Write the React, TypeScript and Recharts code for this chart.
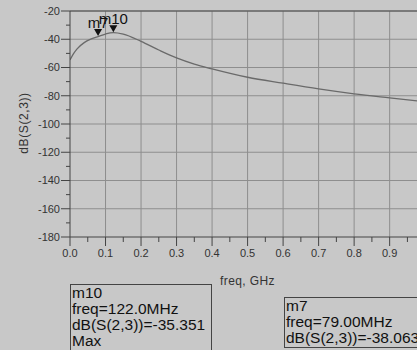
import { LineChart, Line, XAxis, YAxis, CartesianGrid, ReferenceDot } from 'recharts'

// S(2,3) sweep, frequency in GHz, magnitude in dB
const freqGHz = [0, 0.01, 0.02, 0.04, 0.06, 0.079, 0.1, 0.122, 0.15, 0.2, 0.25, 0.3, 0.35, 0.4, 0.5, 0.6, 0.7, 0.8, 0.9, 1.0]
const dbS23 = [-54.6, -50.2, -46.8, -42.4, -39.8, -38.063, -36.3, -35.351, -36.4, -41.5, -47.6, -53.2, -57.6, -61.0, -66.9, -71.1, -75.1, -78.6, -81.5, -84.3]

// visible part of the frequency axis (the plot runs on past the right edge)
const xDomain = [0, 0.977]
const xTicks = [0, 0.05, 0.1, 0.15, 0.2, 0.25, 0.3, 0.35, 0.4, 0.45, 0.5, 0.55, 0.6, 0.65, 0.7, 0.75, 0.8, 0.85, 0.9, 0.95]
const xGrid = [0.1, 0.2, 0.3, 0.4, 0.5, 0.6, 0.7, 0.8, 0.9]
const yTicks = [-20, -30, -40, -50, -60, -70, -80, -90, -100, -110, -120, -130, -140, -150, -160, -170, -180]
const yGrid = [-40, -60, -80, -100, -120, -140, -160]
const yFrame = [-20]

// markers placed on the trace
const markerNames = ['m7', 'm10']
const markerFreq = [0.079, 0.122]
const markerDb = [-38.063, -35.351]

const data = freqGHz.map((f, i) => ({ freq: f, db: dbS23[i] }))

const FONT = '"Liberation Sans", Arial, sans-serif'
const BG = '#c8c8c8'

const YTick = ({ x, y, payload }: any) => {
  const major = payload.value % 20 === 0
  return (
    <g>
      <line x1={x - (major ? 9 : 4)} x2={x} y1={y} y2={y} stroke="#444" />
      {major && (
        <text x={x - 10} y={y} dy="0.35em" textAnchor="end" fontSize={11} fill="#333" fontFamily={FONT}>
          {payload.value}
        </text>
      )}
    </g>
  )
}

const XTick = ({ x, y, payload }: any) => {
  const major = Math.round(payload.value * 100) % 10 === 0
  return (
    <g>
      <line x1={x} x2={x} y1={y} y2={y + (major ? 9 : 5)} stroke="#444" />
      {major && (
        <text x={x} y={y + 20} textAnchor="middle" fontSize={11} fill="#333" fontFamily={FONT}>
          {payload.value.toFixed(1)}
        </text>
      )}
    </g>
  )
}

// down-pointing triangle sitting on the trace, name above it
const markerShapes = markerNames.map(name => (props: any) => {
  const { cx, cy } = props
  const tip = cy - 0.5
  return (
    <g>
      <polygon points={`${cx - 4},${tip - 7} ${cx + 4},${tip - 7} ${cx},${tip}`} fill="#111" />
      <text x={cx} y={tip - 8} textAnchor="middle" fontSize={15} fill="#111" fontFamily={FONT}>
        {name}
      </text>
    </g>
  )
})

const boxStyle: React.CSSProperties = {
  position: 'absolute',
  border: '1px solid #444',
  fontSize: 15.5,
  lineHeight: '16px',
  paddingLeft: 1,
  color: '#111',
  whiteSpace: 'nowrap',
  boxSizing: 'border-box',
}

export default function App() {
  return (
    <div style={{ position: 'fixed', left: 0, top: 0, width: 417, height: 350, overflow: 'hidden', background: BG, fontFamily: FONT }}>
      <LineChart width={417} height={350} data={data} margin={{ top: 11, right: 0, bottom: 0, left: 0 }}>
        <CartesianGrid stroke="#8e8e8e" strokeOpacity={1} horizontalValues={yGrid} verticalValues={xGrid} />
        <CartesianGrid stroke="#606060" strokeOpacity={1} strokeWidth={1.5} horizontalValues={yFrame} vertical={false} />
        <XAxis
          dataKey="freq"
          type="number"
          domain={xDomain}
          allowDataOverflow
          ticks={xTicks}
          interval={0}
          height={113}
          tickSize={0}
          tickMargin={0}
          tickLine={false}
          tick={<XTick />}
          axisLine={{ stroke: '#444' }}
        />
        <YAxis
          type="number"
          domain={[-180, -20]}
          ticks={yTicks}
          interval={0}
          width={70}
          tickSize={0}
          tickMargin={0}
          tickLine={false}
          tick={<YTick />}
          axisLine={{ stroke: '#444' }}
        />
        <Line type="monotone" dataKey="db" stroke="#6a6a6a" strokeWidth={1.3} dot={false} isAnimationActive={false} />
        {markerNames.map((n, i) => (
          <ReferenceDot key={n} x={markerFreq[i]} y={markerDb[i]} r={0} shape={markerShapes[i]} />
        ))}
      </LineChart>

      <div style={{ position: 'absolute', left: 24, top: 122.5, transform: 'translate(-50%, -50%) rotate(-90deg)', fontSize: 12, color: '#333', whiteSpace: 'nowrap', letterSpacing: 0.6 }}>
        dB(S(2,3))
      </div>
      <div style={{ position: 'absolute', left: 247.5, top: 274, transform: 'translateX(-50%)', fontSize: 12, color: '#333', whiteSpace: 'nowrap', letterSpacing: 0.4 }}>
        freq, GHz
      </div>

      <div style={{ ...boxStyle, left: 70, top: 284, width: 142, height: 80 }}>
        <div>{markerNames[1]}</div>
        <div>freq={(markerFreq[1] * 1000).toFixed(1)}MHz</div>
        <div>dB(S(2,3))={markerDb[1].toFixed(3)}</div>
        <div>Max</div>
      </div>
      <div style={{ ...boxStyle, left: 284, top: 297, width: 150, height: 51 }}>
        <div>{markerNames[0]}</div>
        <div>freq={(markerFreq[0] * 1000).toFixed(2)}MHz</div>
        <div>dB(S(2,3))={markerDb[0].toFixed(3)}</div>
      </div>
    </div>
  )
}
